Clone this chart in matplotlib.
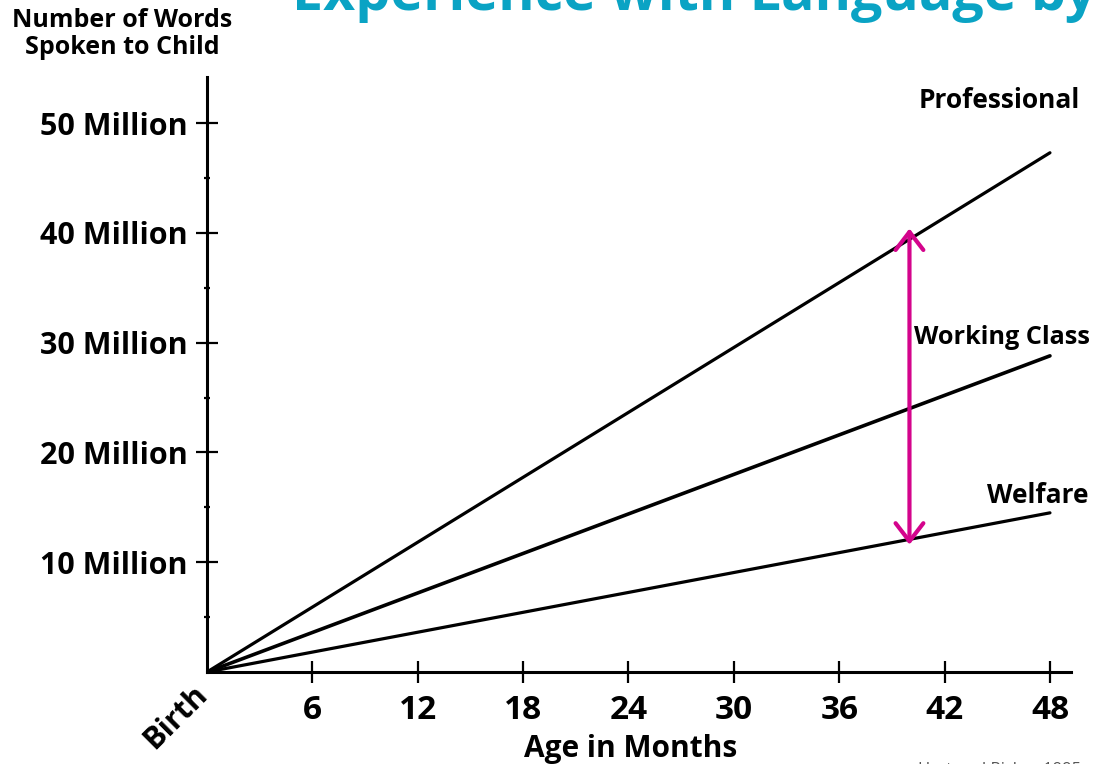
import matplotlib.pyplot as plt

# Cumulative words heard by age, in millions (Hart & Risley)
months = [0, 48]
professional = [0, 47.3]
working_class = [0, 28.8]
welfare = [0, 14.5]

x_ticks = [6, 12, 18, 24, 30, 36, 42, 48]
y_ticks = [10, 20, 30, 40, 50]
y_labels = ['10 Million', '20 Million', '30 Million', '40 Million', '50 Million']

# gap arrow at 40 months
gap_month = 40
gap_top = 40.4
gap_bottom = 11.6

plt.rcParams['font.family'] = ['Open Sans', 'DejaVu Sans']

fig = plt.figure(figsize=(10.93, 7.64), dpi=100)
ax = fig.add_axes([0.1894, 0.1204, 0.7905, 0.7788])

ax.plot(months, professional, color='black', lw=2.3, solid_capstyle='round')
ax.plot(months, working_class, color='black', lw=2.6, solid_capstyle='round')
ax.plot(months, welfare, color='black', lw=2.3, solid_capstyle='round')

ax.set_xlim(0, 49.2)
ax.set_ylim(0, 54.2)

for side in ['top', 'right']:
    ax.spines[side].set_visible(False)
for side in ['left', 'bottom']:
    ax.spines[side].set_linewidth(2.2)

ax.set_xticks(x_ticks)
ax.set_xticklabels([str(t) for t in x_ticks], fontsize=24, fontweight='bold')
ax.set_yticks(y_ticks)
ax.set_yticklabels(y_labels, fontsize=22, fontweight='bold')
ax.set_yticks([5, 15, 25, 35, 45], minor=True)
ax.tick_params(axis='both', which='major', direction='inout', length=16, width=1.6)
ax.tick_params(axis='x', which='major', pad=8)
ax.tick_params(axis='y', which='major', pad=6)
ax.tick_params(axis='y', which='minor', direction='inout', length=5, width=1.6)

# labels at the line ends
ax.text(49.7, 52.1, 'Professional', ha='right', va='center', fontsize=19, fontweight='bold')
ax.text(50.3, 30.5, 'Working Class', ha='right', va='center', fontsize=18.2, fontweight='bold')
ax.text(50.2, 16.1, 'Welfare', ha='right', va='center', fontsize=19, fontweight='bold')

ax.annotate('', xy=(gap_month, gap_top), xytext=(gap_month, gap_bottom),
            arrowprops=dict(arrowstyle='<->,head_length=0.65,head_width=0.5',
                            color='#D4048C', lw=3, mutation_scale=20,
                            shrinkA=0, shrinkB=0))

ax.text(-0.85, -0.7, 'Birth', rotation=45, ha='right', va='top',
        fontsize=22, fontweight='bold', rotation_mode='anchor')
ax.set_xlabel('Age in Months', fontsize=21.5, fontweight='bold')
ax.xaxis.set_label_coords(0.49, -0.105)

fig.text(0.112, 0.99, 'Number of Words\nSpoken to Child', ha='center', va='top',
         fontsize=18, fontweight='bold', linespacing=1.1)

fig.text(0.267, 0.987, 'Experience with Language by', ha='left', va='baseline',
         fontsize=40, fontweight='bold', color='#0AA3C4')

fig.text(0.84, -0.018, 'Hart and Risley, 1995', ha='left', va='bottom',
         fontsize=12, color='#555555')

fig.savefig('out.png', dpi=100)
